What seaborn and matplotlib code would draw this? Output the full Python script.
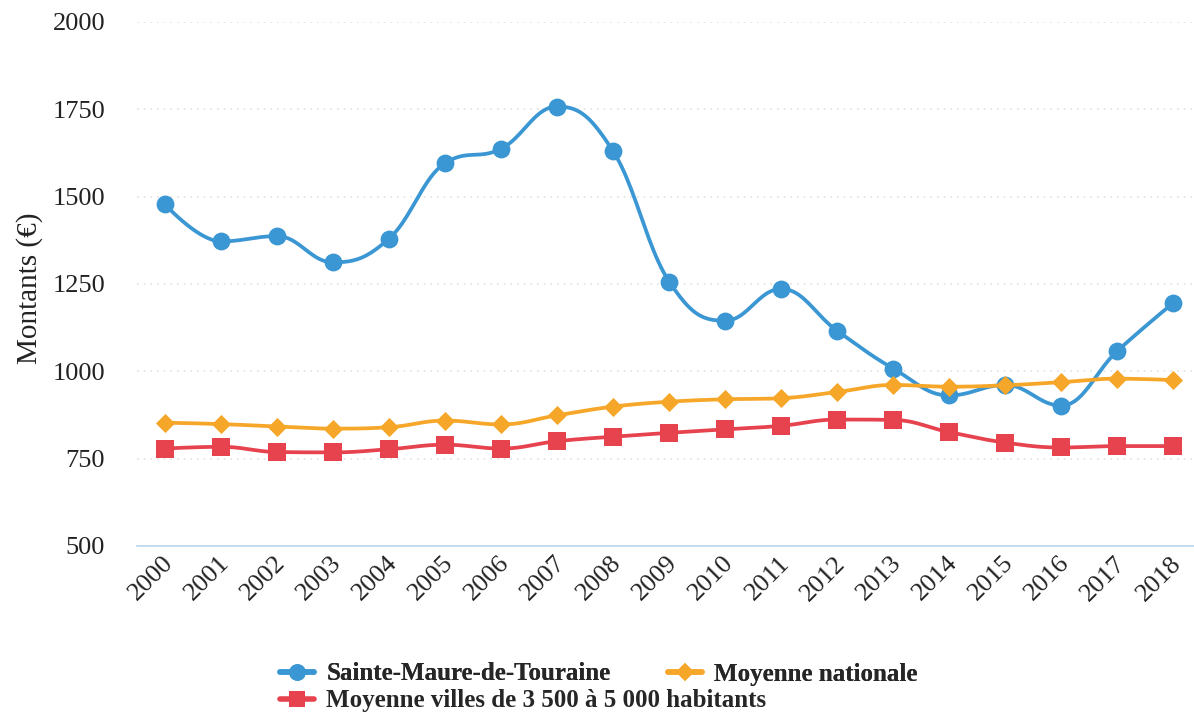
import numpy as np
import pandas as pd
import matplotlib
matplotlib.use("Agg")
import matplotlib.pyplot as plt
import matplotlib.transforms as mtransforms
from matplotlib.lines import Line2D
import seaborn as sns

# Data (euros)
years = [str(y) for y in range(2000, 2019)]
sainte_maure = [1478, 1372, 1387, 1312, 1380, 1596, 1637, 1758, 1630, 1257, 1145,
                1236, 1116, 1008, 931, 961, 902, 1058, 1196]
moyenne_nationale = [853, 849, 842, 836, 840, 859, 848, 874, 899, 913, 920,
                     923, 941, 961, 956, 960, 969, 979, 975]
moyenne_villes = [779, 784, 769, 768, 777, 790, 779, 800, 813, 824, 834,
                  844, 862, 861, 826, 796, 782, 786, 786]

series_names = ["Sainte-Maure-de-Touraine", "Moyenne nationale",
                "Moyenne villes de 3 500 à 5 000 habitants"]
colors = ["#3b97d3", "#f6a72a", "#e6434f"]
markers = ["o", "D", "s"]
marker_sizes = [165, 95, 150]

df = pd.DataFrame({
    "idx": np.arange(len(years)),
    series_names[0]: sainte_maure,
    series_names[1]: moyenne_nationale,
    series_names[2]: moyenne_villes,
})


def spline_curve(x, y, smoothing=1.5, steps=24):
    # smooth path through the points, same control-point rule as a "spline" series
    x = np.asarray(x, float)
    y = np.asarray(y, float)
    n = len(x)
    denom = smoothing + 1
    left = [(x[i], y[i]) for i in range(n)]
    right = [(x[i], y[i]) for i in range(n)]
    for i in range(1, n - 1):
        lx, ly, px, py, nx, ny = x[i - 1], y[i - 1], x[i], y[i], x[i + 1], y[i + 1]
        lcx = (smoothing * px + lx) / denom
        lcy = (smoothing * py + ly) / denom
        rcx = (smoothing * px + nx) / denom
        rcy = (smoothing * py + ny) / denom
        corr = ((rcy - lcy) * (rcx - px)) / (rcx - lcx) + py - rcy
        lcy += corr
        rcy += corr
        if lcy > ly and lcy > py:
            lcy = max(ly, py); rcy = 2 * py - lcy
        elif lcy < ly and lcy < py:
            lcy = min(ly, py); rcy = 2 * py - lcy
        if rcy > ny and rcy > py:
            rcy = max(ny, py); lcy = 2 * py - rcy
        elif rcy < ny and rcy < py:
            rcy = min(ny, py); lcy = 2 * py - rcy
        left[i] = (lcx, lcy)
        right[i] = (rcx, rcy)
    t = np.linspace(0, 1, steps)[:, None]
    pts = []
    for i in range(1, n):
        p0 = np.array([x[i - 1], y[i - 1]])
        c1 = np.array(right[i - 1])
        c2 = np.array(left[i])
        p3 = np.array([x[i], y[i]])
        seg = ((1 - t) ** 3) * p0 + 3 * ((1 - t) ** 2) * t * c1 + 3 * (1 - t) * t ** 2 * c2 + t ** 3 * p3
        pts.append(seg if i == 1 else seg[1:])
    pts = np.vstack(pts)
    return pts[:, 0], pts[:, 1]


sns.set_theme(style="white")
plt.rcParams["font.family"] = ["Liberation Serif", "DejaVu Serif"]

fig = plt.figure(figsize=(11.94, 7.16), dpi=100)
ax = fig.add_axes([137 / 1194, 1 - 546 / 716, 1 - 137 / 1194, (546 - 22) / 716])

for k, name in enumerate(series_names):
    cx, cy = spline_curve(df["idx"], df[name])
    ax.plot(cx, cy, color=colors[k], lw=2.7, zorder=2 + 2 * k, solid_capstyle="round")
    sns.scatterplot(data=df, x="idx", y=name, ax=ax, color=colors[k], marker=markers[k],
                    s=marker_sizes[k], linewidth=0, zorder=3 + 2 * k, legend=False)

ax.set_xlim(-0.48, 18.37)
ax.set_ylim(500, 2000)
ax.set_yticks([500, 750, 1000, 1250, 1500, 1750, 2000])
ax.set_xticks(range(len(years)))
ax.set_xticklabels(years)
ax.set_xticks(np.arange(len(years)) - 0.5, minor=True)
ax.set_xlabel("")
ax.set_ylabel("")
fig.text(30 / 1194, 1 - 288 / 716, "Montants (€)", rotation=90, fontsize=21,
         ha="center", va="center", color="#222222")

for y in [750, 1000, 1250, 1500, 1750, 2000]:
    ax.axhline(y, color="#e2e2e2", lw=1.2, ls=(0, (1, 3)), zorder=1)

for s in ["left", "right", "top"]:
    ax.spines[s].set_visible(False)
ax.spines["bottom"].set_color("#b9d6ea")
ax.spines["bottom"].set_linewidth(1.2)

ax.tick_params(axis="y", length=0, pad=23, labelsize=19, labelcolor="#222222")
ax.tick_params(axis="x", which="major", length=0, pad=10, labelsize=19, labelcolor="#222222")
ax.tick_params(axis="x", which="minor", length=9, width=1.2, color="#b9d6ea", direction="out")

offset = mtransforms.ScaledTranslation(5 / 100, 0, fig.dpi_scale_trans)
for lab in ax.get_xticklabels():
    lab.set_rotation(45)
    lab.set_ha("right")
    lab.set_va("center")
    lab.set_rotation_mode("anchor")
    lab.set_transform(lab.get_transform() + offset)

handles = [Line2D([0], [0], color=colors[k], lw=4, marker=markers[k],
                  markersize=[12, 9, 12][k], markeredgewidth=0) for k in range(3)]
leg_font = {"family": ["Liberation Serif", "DejaVu Serif"], "weight": "bold", "size": 18}
leg1 = fig.legend(handles[:2], series_names[:2], loc="center left",
                  bbox_to_anchor=(280 / 1194, 1 - 674 / 716), ncol=2, frameon=False,
                  prop=leg_font, handlelength=1.35, handletextpad=0.5, columnspacing=2.3,
                  borderpad=0, borderaxespad=0)
fig.add_artist(leg1)
fig.legend(handles[2:], series_names[2:], loc="center left",
           bbox_to_anchor=(280 / 1194, 1 - 701 / 716), frameon=False,
           prop=leg_font, handlelength=1.35, handletextpad=0.5,
           borderpad=0, borderaxespad=0)

fig.savefig("out.png", dpi=100, facecolor="white")
